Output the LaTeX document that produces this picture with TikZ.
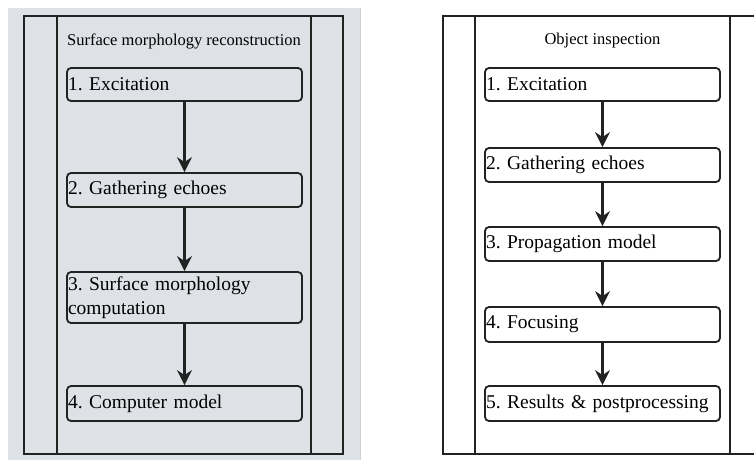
\documentclass[tikz,border=0pt]{standalone}
\usepackage{fontspec}
\setmainfont{Liberation Serif}
\usetikzlibrary{arrows.meta}
\definecolor{panelgrey}{RGB}{222,226,230}
\definecolor{paneledge}{RGB}{206,210,216}
\definecolor{ink}{RGB}{34,34,34}
\frenchspacing
\tikzset{
  stepbox/.style={draw=ink, line width=1.8pt, rounded corners=4pt, rectangle,
    minimum width=235pt, text width=233pt, inner sep=1pt, align=left,
    font=\fontsize{19.5}{24}\selectfont\frenchspacing},
  titletext/.style={font=\fontsize{16.5}{19}\selectfont\frenchspacing, inner sep=0pt},
  flow/.style={draw=ink, line width=2.2pt, -{Stealth[length=15pt,width=15pt,inset=5pt]}},
  frame/.style={draw=ink, line width=2pt},
  lane/.style={draw=ink, line width=1.3pt}
}
\begin{document}
\begin{tikzpicture}[x=1pt,y=-1pt]
\useasboundingbox (0,0) rectangle (754,459);
\clip (0,0) rectangle (754,459);
% left panel
\fill[panelgrey] (8,8) rectangle (360,462);
\draw[paneledge, line width=0.8pt] (360,8) -- (360,462);
\draw[frame] (24,16) rectangle (343,454);
\draw[lane] (57,16) -- (57,454);
\draw[lane] (311,16) -- (311,454);
\node[titletext] (lt) at (184,41) {Surface morphology reconstruction};
\node[stepbox, minimum height=33pt] (l1) at (184.5,84.5) {1. Excitation};
\node[stepbox, minimum height=34pt] (l2) at (184.5,190) {2. Gathering echoes};
\node[stepbox, minimum height=51pt] (l3) at (184.5,297.5) {3. Surface morphology\\computation};
\node[stepbox, minimum height=35pt] (l4) at (184.5,403.5) {4. Computer model};
\draw[flow] (l1) -- (l2);
\draw[flow] (l2) -- (l3);
\draw[flow] (l3) -- (l4);
% right panel
\draw[frame] (443,16) rectangle (770,454);
\draw[lane] (475,16) -- (475,454);
\draw[lane] (730,16) -- (730,454);
\node[titletext] (rt) at (602.5,41) {Object inspection};
\node[stepbox, minimum height=33pt] (r1) at (602.5,84.5) {1. Excitation};
\node[stepbox, minimum height=34pt] (r2) at (602.5,165) {2. Gathering echoes};
\node[stepbox, minimum height=34pt] (r3) at (602.5,244) {3. Propagation model};
\node[stepbox, minimum height=35pt] (r4) at (602.5,324.5) {4. Focusing};
\node[stepbox, minimum height=35pt] (r5) at (602.5,403.5) {5. Results \& postprocessing};
\draw[flow] (r1) -- (r2);
\draw[flow] (r2) -- (r3);
\draw[flow] (r3) -- (r4);
\draw[flow] (r4) -- (r5);
\end{tikzpicture}
\end{document}
